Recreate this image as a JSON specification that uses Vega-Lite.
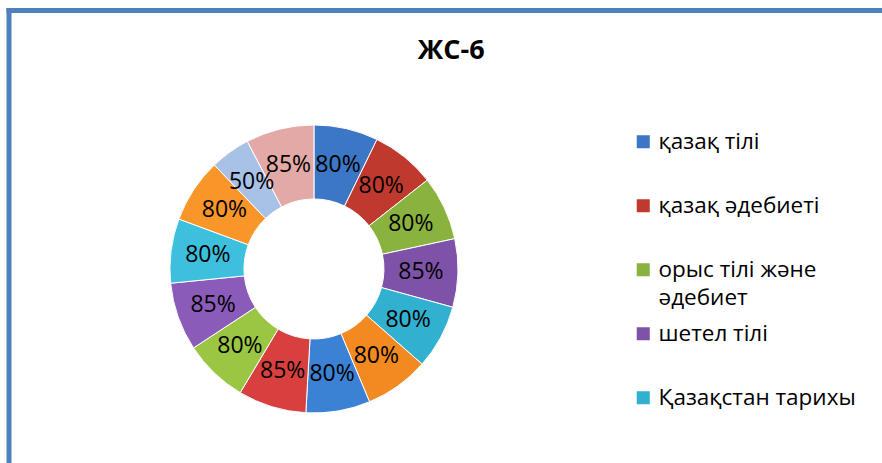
{
  "$schema": "https://vega.github.io/schema/vega-lite/v6.json",
  "autosize": "none",
  "width": 873.5,
  "height": 453,
  "padding": {"left": 8.5, "top": 10, "right": 0, "bottom": 0},
  "background": "white",
  "config": {
    "view": {"stroke": null},
    "font": "Open Sans",
    "style": {"guide-label": {"lineHeight": 28}}
  },
  "title": {
    "text": "ЖС-6",
    "font": "Open Sans",
    "fontSize": 27,
    "fontWeight": "bold",
    "color": "#000000",
    "anchor": "middle",
    "baseline": "alphabetic",
    "offset": -76,
    "dx": 6
  },
  "data": {
    "values": [
      {"idx": 1, "subject": "қазақ тілі", "v": 0.80},
      {"idx": 2, "subject": "қазақ әдебиеті", "v": 0.80},
      {"idx": 3, "subject": "орыс тілі және әдебиет", "v": 0.80},
      {"idx": 4, "subject": "шетел тілі", "v": 0.85},
      {"idx": 5, "subject": "Қазақстан тарихы", "v": 0.80},
      {"idx": 6, "subject": "пән 6", "v": 0.80},
      {"idx": 7, "subject": "пән 7", "v": 0.80},
      {"idx": 8, "subject": "пән 8", "v": 0.85},
      {"idx": 9, "subject": "пән 9", "v": 0.80},
      {"idx": 10, "subject": "пән 10", "v": 0.85},
      {"idx": 11, "subject": "пән 11", "v": 0.80},
      {"idx": 12, "subject": "пән 12", "v": 0.80},
      {"idx": 13, "subject": "пән 13", "v": 0.50},
      {"idx": 14, "subject": "пән 14", "v": 0.85}
    ]
  },
  "encoding": {
    "theta": {"field": "v", "type": "quantitative", "stack": true},
    "order": {"field": "idx", "type": "quantitative"},
    "x": {
      "datum": 0.3497,
      "type": "quantitative",
      "scale": {"domain": [0, 1], "nice": false, "zero": false},
      "axis": {"orient": "top", "title": null, "labels": false, "ticks": false, "grid": false, "domainColor": "#4F81BD", "domainWidth": 5, "domainCap": "square"}
    },
    "y": {
      "datum": 0.4283,
      "type": "quantitative",
      "scale": {"domain": [0, 1], "nice": false, "zero": false},
      "axis": {"orient": "left", "title": null, "labels": false, "ticks": false, "grid": false, "domainColor": "#4F81BD", "domainWidth": 5, "domainCap": "square"}
    }
  },
  "layer": [
    {
      "mark": {"type": "arc", "outerRadius": 144, "innerRadius": 70, "stroke": "#ffffff", "strokeWidth": 1},
      "encoding": {
        "color": {
          "field": "subject",
          "type": "nominal",
          "sort": null,
          "scale": {
            "domain": ["қазақ тілі", "қазақ әдебиеті", "орыс тілі және әдебиет", "шетел тілі", "Қазақстан тарихы", "пән 6", "пән 7", "пән 8", "пән 9", "пән 10", "пән 11", "пән 12", "пән 13", "пән 14"],
            "range": ["#3B77C4", "#C0392F", "#8AB23E", "#7D52A8", "#31B0CF", "#F28A21", "#3B82D4", "#D8403F", "#9BC643", "#8A5BB8", "#3CC0DE", "#F9962A", "#A8C1E6", "#E3A9A7"]
          },
          "legend": {
            "values": ["қазақ тілі", "қазақ әдебиеті", "орыс тілі және әдебиет", "шетел тілі", "Қазақстан тарихы"],
            "orient": "none",
            "legendX": 623.5,
            "legendY": 119.7,
            "title": null,
            "padding": 0,
            "symbolType": "square",
            "symbolSize": 170,
            "symbolStrokeWidth": 0,
            "labelFont": "Open Sans",
            "labelFontSize": 22.5,
            "labelColor": "#000000",
            "labelOffset": 4,
            "labelLimit": 300,
            "labelBaseline": "middle",
            "clipHeight": 24,
            "gridAlign": "all",
            "rowPadding": 12,
            "labelExpr": "datum.label == 'орыс тілі және әдебиет' ? ['орыс тілі және', 'әдебиет'] : datum.label",
            "encode": {"labels": {
              "enter": {"lineHeight": {"value": 28}},
              "update": {
                "lineHeight": {"value": 28},
                "dy": {"signal": "datum.label == 'орыс тілі және әдебиет' ? 14 : 0"}
              }
            }}
          }
        }
      }
    },
    {
      "mark": {"type": "text", "radius": 107, "font": "Open Sans", "fontSize": 23, "color": "#000000"},
      "encoding": {
        "text": {"field": "v", "type": "quantitative", "format": ".0%"}
      }
    }
  ]
}
